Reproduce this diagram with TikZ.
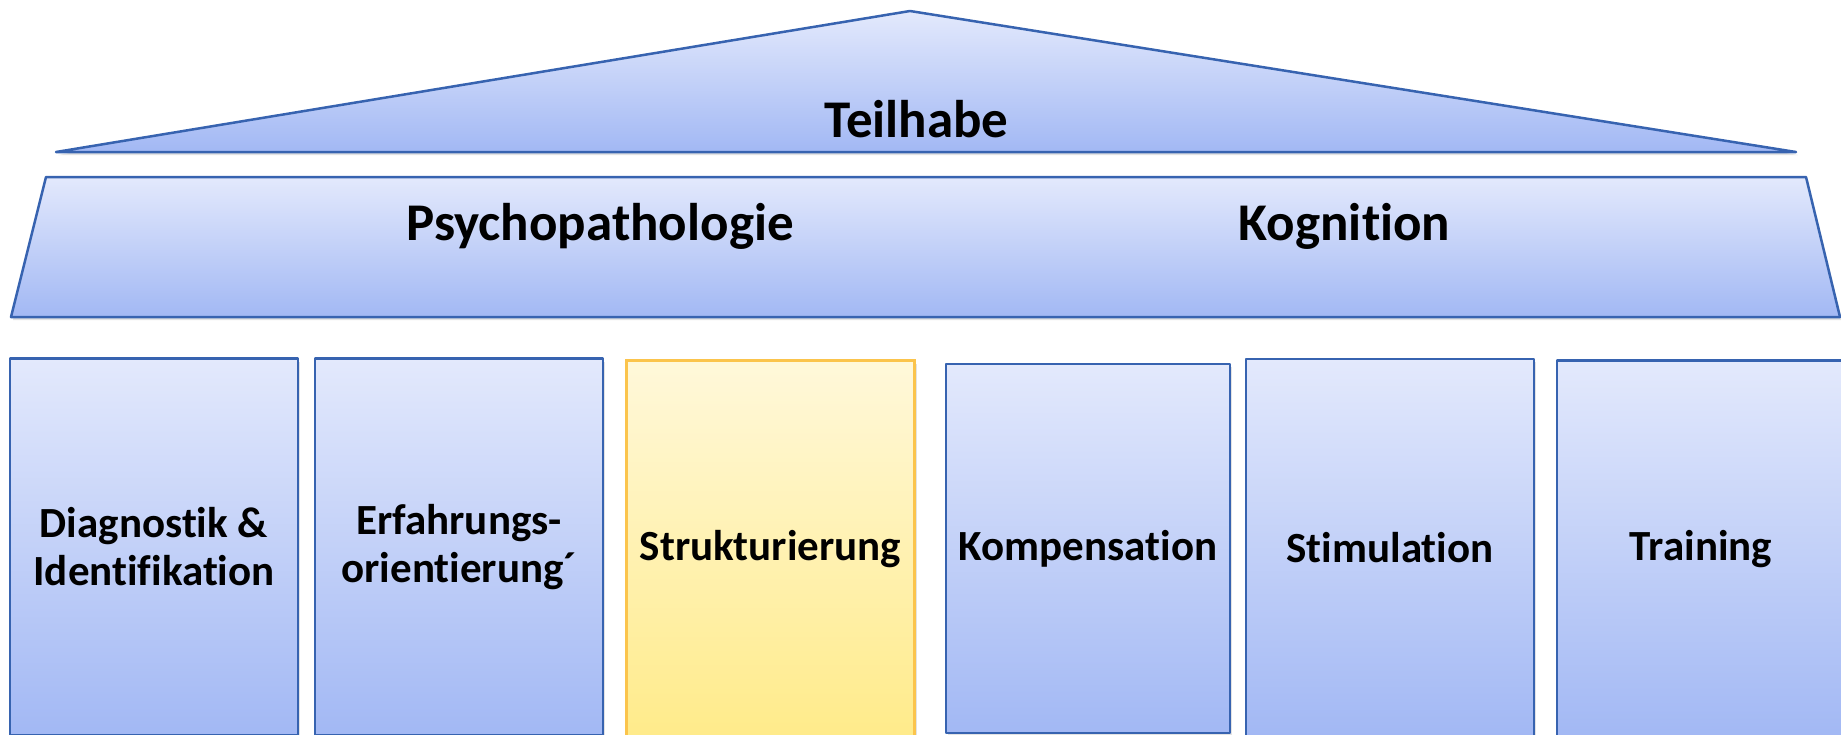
\documentclass[tikz,border=0pt]{standalone}
\usepackage{fontspec}
\setmainfont[Ligatures=NoCommon]{Carlito}
\usetikzlibrary{shadows}
\definecolor{bluetop}{HTML}{E3E9FC}
\definecolor{bluebot}{HTML}{A2B8F4}
\definecolor{blueline}{HTML}{3763B0}
\definecolor{yeltop}{HTML}{FFF8DA}
\definecolor{yelbot}{HTML}{FFEB8A}
\definecolor{yelline}{HTML}{FBC44C}
\tikzset{
  bluefill/.style={top color=bluetop, bottom color=bluebot, draw=blueline, line width=2.5pt, line join=round},
  yelfill/.style={top color=yeltop, bottom color=yelbot, draw=yelline, line width=2.5pt},
  softshadow/.style={drop shadow={opacity=0.18, shadow xshift=2pt, shadow yshift=-3pt, fill=black!60}},
  pillar/.style={rectangle, outer sep=0pt, inner sep=0pt, minimum width=288pt, align=center,
    font=\fontsize{43}{48}\selectfont\bfseries, text=black, softshadow},
  bigtext/.style={font=\fontsize{53}{63}\selectfont\bfseries, text=black, anchor=base, inner sep=0pt},
}
\begin{document}
\begin{tikzpicture}[x=1pt,y=-1pt]
\useasboundingbox (0,0) rectangle (1841,734);
\clip (0,0) rectangle (1841,734);
% roof
\path[bluefill, softshadow] (910,11) -- (1796,152) -- (56,152) -- cycle;
\node[bigtext] (teilhabe) at (916.5,137) {Teilhabe};
% beam
\path[bluefill, softshadow] (46,177) -- (1806,177) -- (1840,317) -- (11,317) -- cycle;
\node[bigtext] (psycho) at (600,240) {Psychopathologie};
\node[bigtext] (kogn) at (1344.5,240) {Kognition};
% pillars
\node[pillar, bluefill, minimum height=377pt] (diag) at (154,547) {Diagnostik \&\\Identifikation};
\node[pillar, bluefill, minimum height=377pt] (erf) at (459,547) {Erfahrungs-\\orientierung´};
\node[pillar, yelfill, minimum height=377pt] (struk) at (770.5,549) {Strukturierung};
\node[pillar, bluefill, minimum width=284pt, minimum height=369pt] (komp) at (1088,548.5) {Kompensation};
\node[pillar, bluefill, minimum height=377pt] (stim) at (1390,547.5) {Stimulation};
\node[pillar, bluefill, minimum height=377pt] (train) at (1701,549) {Training};
\end{tikzpicture}
\end{document}
